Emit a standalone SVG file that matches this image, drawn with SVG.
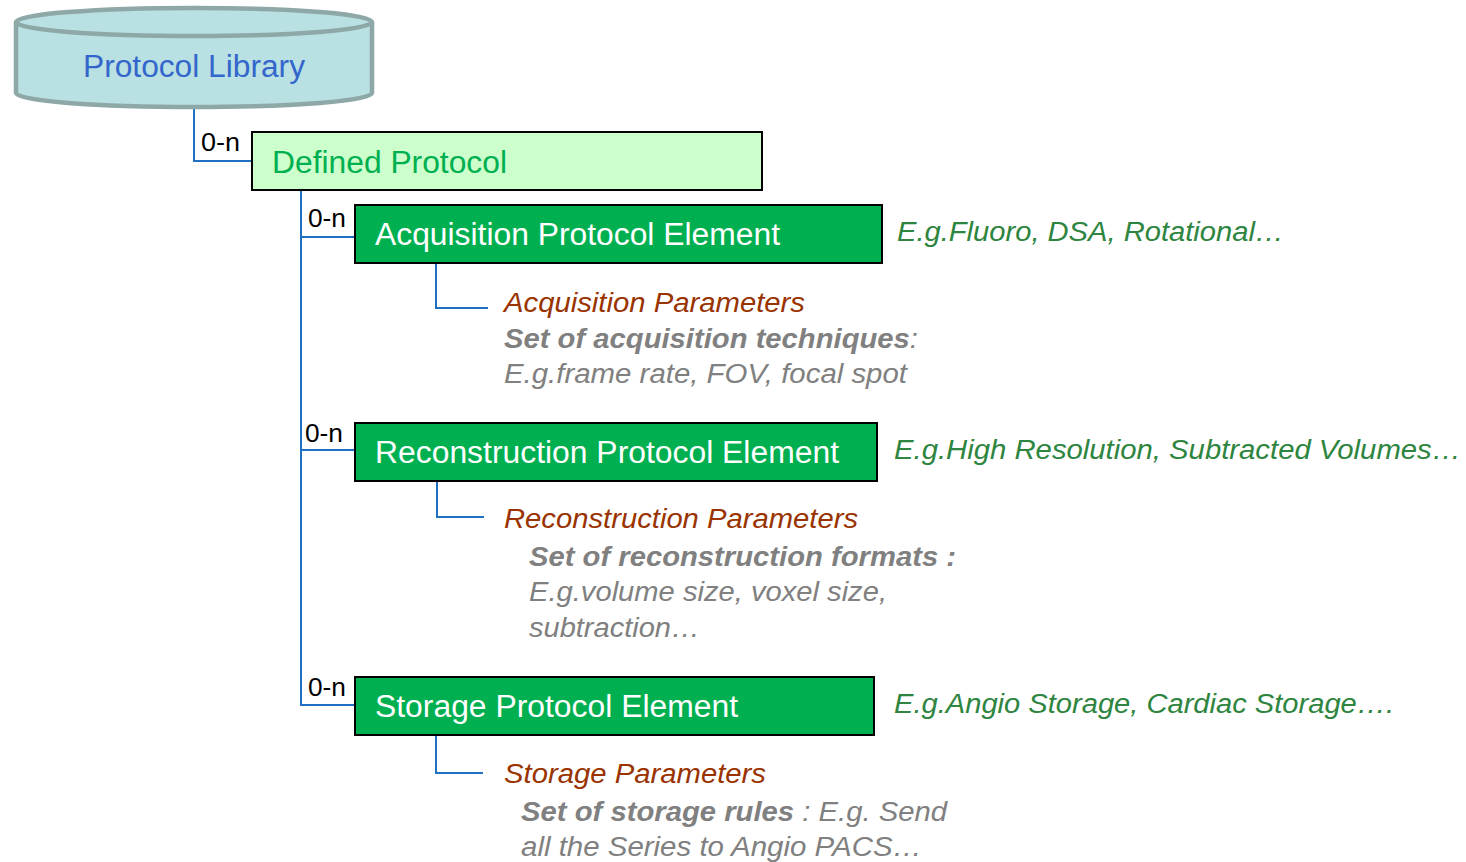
<svg xmlns="http://www.w3.org/2000/svg" width="1466" height="862" viewBox="0 0 1466 862">
  <style>
    text { font-family: "Liberation Sans", Arial, sans-serif; }
    .card { font-size: 25px; fill: #000; }
    .box { fill: #00b050; stroke: #000; stroke-width: 2; }
    .boxlabel { font-size: 31px; fill: #fff; }
    .eg { font-size: 27px; font-style: italic; fill: #2e8540; }
    .param { font-size: 27px; font-style: italic; fill: #993300; }
    .desc { font-size: 27px; font-style: italic; fill: #808080; }
    .desc .b { font-weight: bold; }
    .link { fill: none; stroke: #1f70c1; stroke-width: 2; }
  </style>

  <!-- connectors -->
  <g id="connectors">
    <polyline class="link" points="194,108 194,161 252,161"/>
    <polyline class="link" points="301,190 301,705 355,705"/>
    <line class="link" x1="301" y1="237" x2="355" y2="237"/>
    <line class="link" x1="301" y1="450" x2="355" y2="450"/>
    <polyline class="link" points="436,263 436,308 488,308"/>
    <polyline class="link" points="437,481 437,517 484,517"/>
    <polyline class="link" points="436,736 436,773 483,773"/>
    <text class="card" x="201" y="151" textLength="39" lengthAdjust="spacingAndGlyphs">0-n</text>
    <text class="card" x="308" y="227" textLength="38" lengthAdjust="spacingAndGlyphs">0-n</text>
    <text class="card" x="305" y="442" textLength="38" lengthAdjust="spacingAndGlyphs">0-n</text>
    <text class="card" x="308" y="696" textLength="38" lengthAdjust="spacingAndGlyphs">0-n</text>
  </g>

  <!-- library store -->
  <g id="protocol-library">
    <path d="M16,22 L16,93 A178,14 0 0 0 372,93 L372,22" fill="#b9e0e2" stroke="#8ea8a8" stroke-width="4.5"/>
    <ellipse cx="194" cy="22" rx="178" ry="14" fill="#b9e0e2" stroke="#8ea8a8" stroke-width="4.5"/>
    <text x="83" y="77" font-size="31" fill="#3366cc" textLength="222" lengthAdjust="spacingAndGlyphs">Protocol Library</text>
  </g>

  <g id="defined-protocol">
    <rect x="252" y="132" width="510" height="58" fill="#ccffcc" stroke="#000" stroke-width="2"/>
    <text x="272" y="173" font-size="31" fill="#00b050" textLength="235" lengthAdjust="spacingAndGlyphs">Defined Protocol</text>
  </g>

  <g id="acquisition-element">
    <rect class="box" x="355" y="205" width="527" height="58"/>
    <text class="boxlabel" x="375" y="245" textLength="405" lengthAdjust="spacingAndGlyphs">Acquisition Protocol Element</text>
    <text class="eg" x="897" y="241" textLength="387" lengthAdjust="spacingAndGlyphs">E.g.Fluoro, DSA, Rotational…</text>
  </g>

  <g id="acquisition-parameters">
    <text class="param" x="504" y="312" textLength="301" lengthAdjust="spacingAndGlyphs">Acquisition Parameters</text>
    <text class="desc" x="504" y="348" textLength="414" lengthAdjust="spacingAndGlyphs"><tspan class="b">Set of acquisition techniques</tspan>:</text>
    <text class="desc" x="504" y="383" textLength="403" lengthAdjust="spacingAndGlyphs">E.g.frame rate, FOV, focal spot</text>
  </g>

  <g id="reconstruction-element">
    <rect class="box" x="355" y="423" width="522" height="58"/>
    <text class="boxlabel" x="375" y="463" textLength="464" lengthAdjust="spacingAndGlyphs">Reconstruction Protocol Element</text>
    <text class="eg" x="894" y="459" textLength="567" lengthAdjust="spacingAndGlyphs">E.g.High Resolution, Subtracted Volumes…</text>
  </g>

  <g id="reconstruction-parameters">
    <text class="param" x="504" y="528" textLength="354" lengthAdjust="spacingAndGlyphs">Reconstruction Parameters</text>
    <text class="desc" x="529" y="566" textLength="427" lengthAdjust="spacingAndGlyphs"><tspan class="b">Set of reconstruction formats :</tspan></text>
    <text class="desc" x="529" y="601" textLength="358" lengthAdjust="spacingAndGlyphs">E.g.volume size, voxel size,</text>
    <text class="desc" x="529" y="637" textLength="171" lengthAdjust="spacingAndGlyphs">subtraction…</text>
  </g>

  <g id="storage-element">
    <rect class="box" x="355" y="677" width="519" height="58"/>
    <text class="boxlabel" x="375" y="717" textLength="363" lengthAdjust="spacingAndGlyphs">Storage Protocol Element</text>
    <text class="eg" x="894" y="713" textLength="500" lengthAdjust="spacingAndGlyphs">E.g.Angio Storage, Cardiac Storage….</text>
  </g>

  <g id="storage-parameters">
    <text class="param" x="504" y="783" textLength="262" lengthAdjust="spacingAndGlyphs">Storage Parameters</text>
    <text class="desc" x="521" y="821" textLength="426" lengthAdjust="spacingAndGlyphs"><tspan class="b">Set of storage rules</tspan> : E.g. Send</text>
    <text class="desc" x="521" y="856" textLength="401" lengthAdjust="spacingAndGlyphs">all the Series to Angio PACS…</text>
  </g>
</svg>
